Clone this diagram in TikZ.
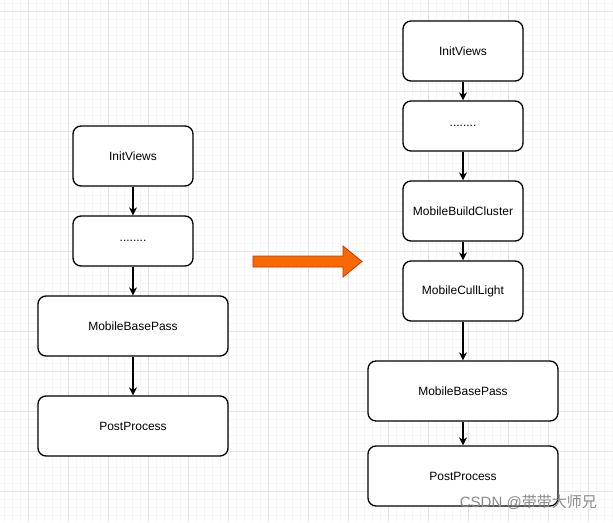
\documentclass[tikz,border=0pt]{standalone}
\usepackage{fontspec}
\setmainfont{Liberation Sans}
\newfontfamily\cjkfont{Noto Sans CJK SC}
\usetikzlibrary{arrows.meta}
\definecolor{gridmajor}{HTML}{E4E4E4}
\definecolor{gridminor}{HTML}{F6F6F6}
\definecolor{orangefill}{HTML}{FA6800}
\definecolor{orangestroke}{HTML}{C73500}
\definecolor{wmgray}{HTML}{8A8A8A}
\begin{document}
\begin{tikzpicture}[x=1pt,y=-1pt,
  box/.style={draw=black, line width=1.3pt, rounded corners=8pt, fill=white,
    font=\fontsize{12}{14}\selectfont, inner sep=0pt},
  conn/.style={draw=black, line width=1.2pt, -{Stealth[length=8pt,width=8pt,inset=2.5pt]}}
]
\useasboundingbox[fill=white] (0,0) rectangle (613,522);
% grid
\foreach \x in {4,12,...,612} \draw[gridminor, line width=0.8pt] (\x,0) -- (\x,522);
\foreach \y in {3,11,...,521} \draw[gridminor, line width=0.8pt] (0,\y) -- (613,\y);
\foreach \x in {28,68,...,612} \draw[gridmajor, line width=1pt] (\x,0) -- (\x,522);
\foreach \y in {11,51,...,521} \draw[gridmajor, line width=1pt] (0,\y) -- (613,\y);

% left column
\node[box, minimum width=120pt, minimum height=60pt] (l1) at (133,156) {InitViews};
\node[box, minimum width=120pt, minimum height=50pt] (l2) at (133,241) {........};
\node[box, minimum width=190pt, minimum height=60pt] (l3) at (133,326) {MobileBasePass};
\node[box, minimum width=190pt, minimum height=60pt] (l4) at (133,426) {PostProcess};
\draw[conn] (l1) -- (l2);
\draw[conn] (l2) -- (l3);
\draw[conn] (l3) -- (l4);

% right column
\node[box, minimum width=120pt, minimum height=60pt] (r1) at (463,51) {InitViews};
\node[box, minimum width=120pt, minimum height=50pt] (r2) at (463,126) {........};
\node[box, minimum width=120pt, minimum height=60pt] (r3) at (463,211) {MobileBuildCluster};
\node[box, minimum width=120pt, minimum height=60pt] (r4) at (463,291) {MobileCullLight};
\node[box, minimum width=190pt, minimum height=60pt] (r5) at (463,391) {MobileBasePass};
\node[box, minimum width=190pt, minimum height=60pt] (r6) at (463,476) {PostProcess};
\draw[conn] (r1) -- (r2);
\draw[conn] (r2) -- (r3);
\draw[conn] (r3) -- (r4);
\draw[conn] (r4) -- (r5);
\draw[conn] (r5) -- (r6);

% big orange arrow
\draw[fill=orangefill, draw=orangestroke, line width=0.8pt, line join=miter]
  (253,256) -- (343,256) -- (343,246) -- (362,261.5) -- (343,277) -- (343,267) -- (253,267) -- cycle;

% watermark
\node[text=wmgray, anchor=base east, inner sep=0pt, font=\fontsize{15}{17}\selectfont] (wm) at (597,507) {CSDN @{\cjkfont 带带大师兄}};
\end{tikzpicture}
\end{document}
